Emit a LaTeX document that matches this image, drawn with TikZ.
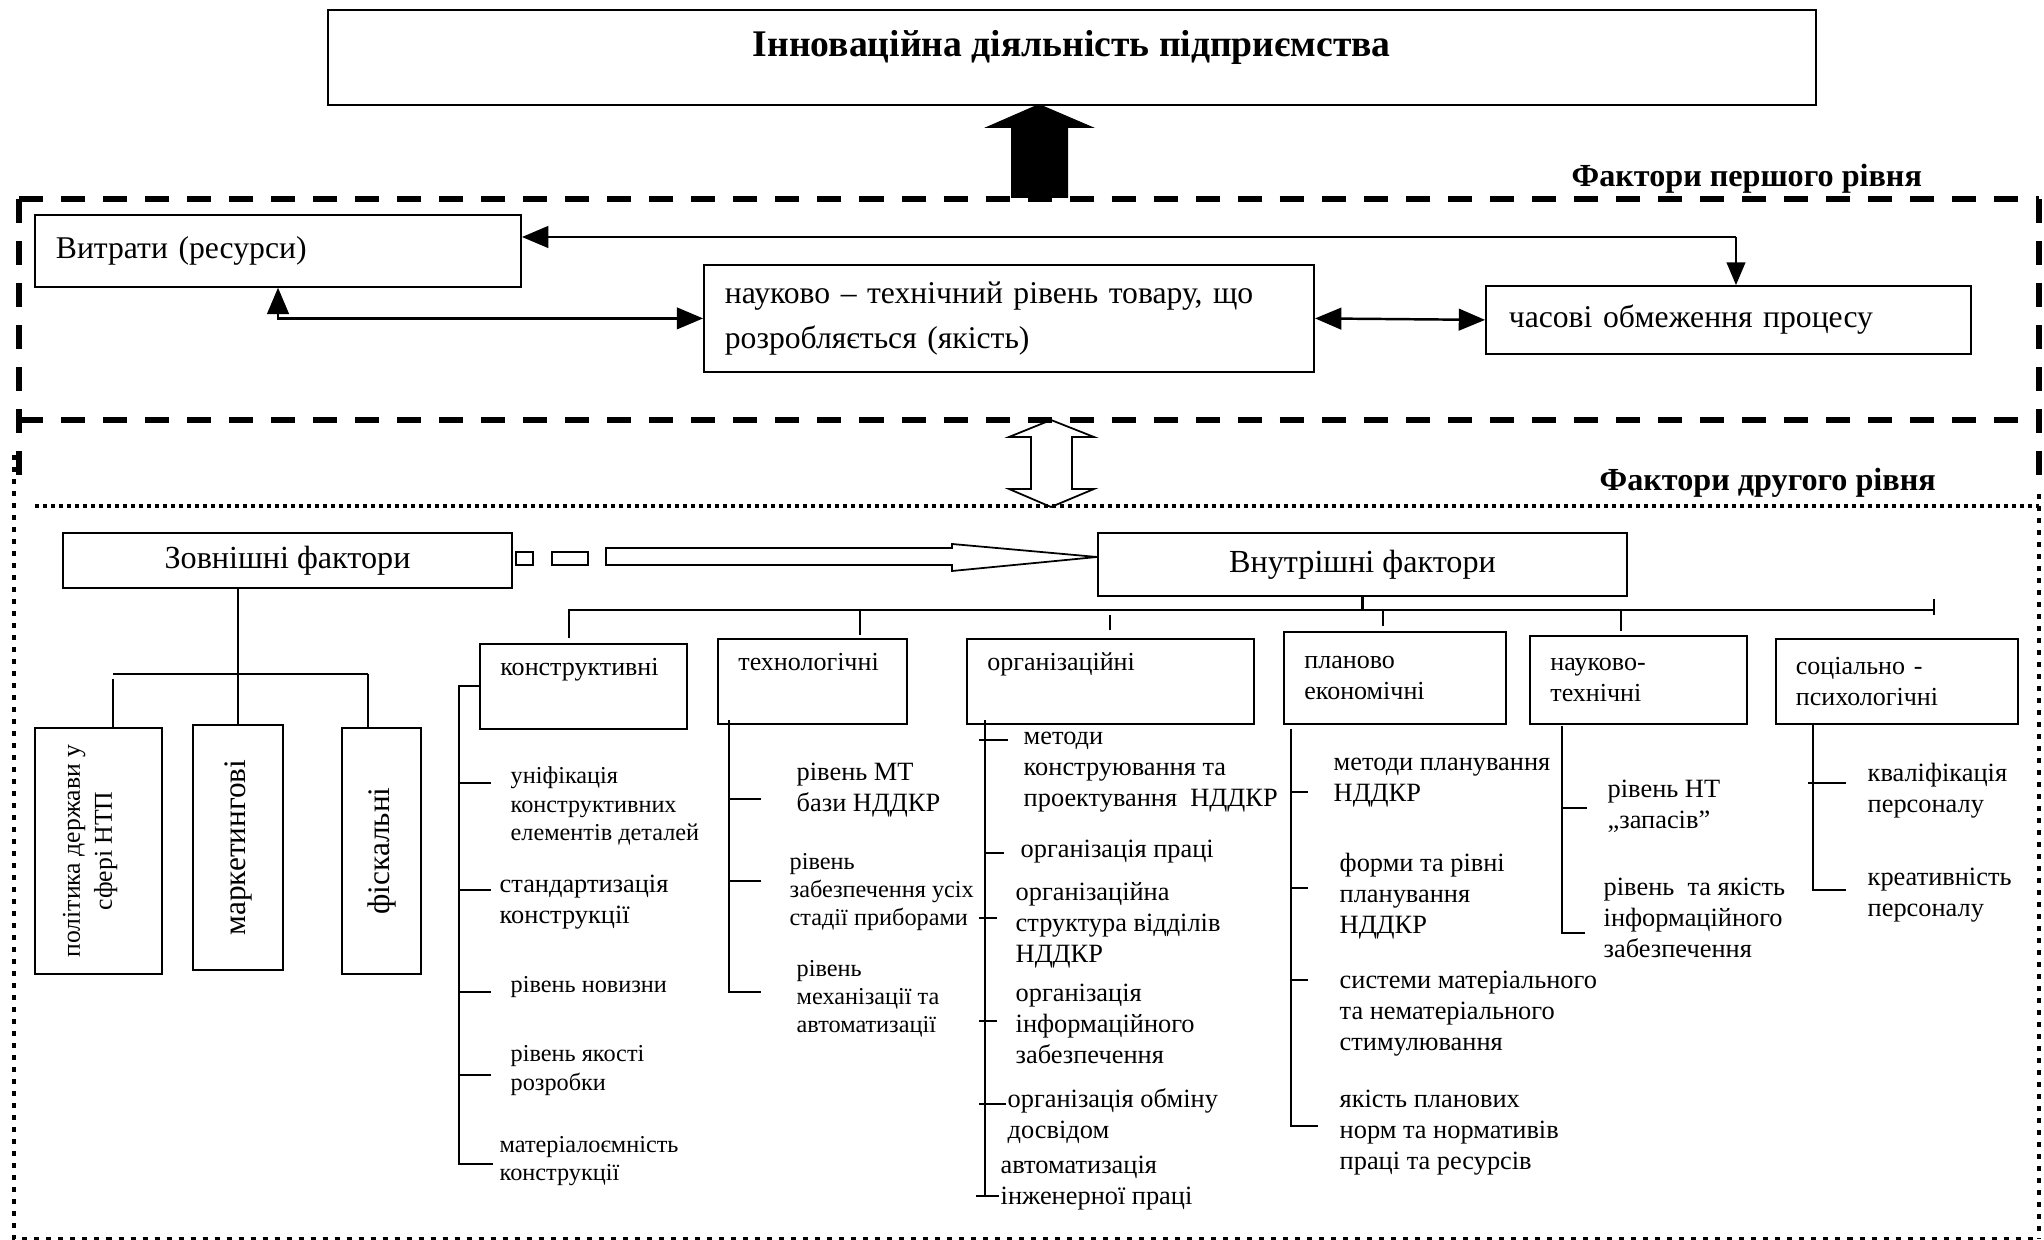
\documentclass[tikz,border=0pt]{standalone}
\usepackage{fontspec}
\setmainfont{Liberation Serif}
\usetikzlibrary{shapes,arrows,positioning}

\tikzset{
	bx/.style={draw,line width=0.5pt,anchor=north west,inner ysep=0pt},
	topbx/.style={bx,align=left,inner xsep=2.1mm,font=\fontsize{9}{12.8}\selectfont},
	catbx/.style={bx,align=left,inner xsep=2.05mm,minimum height=8.5mm,font=\fontsize{7.4}{8.6}\selectfont},
	rotbx/.style={draw,line width=0.5pt,rotate=90,align=center,inner sep=0pt,font=\fontsize{8.9}{9.1}\selectfont},
	punkt/.style={anchor=west,align=left,inner sep=0pt,font=\fontsize{7.5}{8.8}\selectfont},
	punktS/.style={punkt,font=\fontsize{6.9}{8}\selectfont},
	zagol/.style={anchor=base west,inner sep=0pt,font=\fontsize{9.15}{11}\selectfont\bfseries},
	trln/.style={line width=0.6pt},
	thickdash/.style={line width=1.7pt,dash pattern=on 2.4mm off 1.8mm},
	dotline/.style={line width=1.4pt,dash pattern=on 0.5mm off 0.7mm},
}

\begin{document}
\begin{tikzpicture}[line join=miter,>=triangle 45,x=0.01cm,y=-0.01cm]
	\useasboundingbox (0,0) rectangle (2044,1240);
	% головний блок
	\node[bx,minimum width=148.7mm,minimum height=9.5mm,text height=2.6mm,text depth=2.8mm,
		font=\fontsize{10.7}{12}\selectfont\bfseries] (innov) at (327,9) {Інноваційна діяльність підприємства};
	\fill (1039,104) -- (1095,128) -- (1068,128) -- (1068,198) -- (1011,198) -- (1011,128) -- (984,128) -- cycle;%чорна стрілка

	% фактори першого рівня
	\node[zagol] (pershyi) at (1571,186.5) {Фактори першого рівня};
	\draw[thickdash] (19,199) -- (2039,199);
	\draw[thickdash] (19,420) -- (2039,420);
	\draw[thickdash] (19,199) -- (19,493);
	\draw[thickdash] (2039,199) -- (2039,476);

	\node[topbx,text width=44.4mm,minimum height=7.2mm] (vytr) at (34,214) {Витрати (ресурси)};
	\node[topbx,text width=56.8mm,minimum height=10.7mm] (rivn) at (703,264) {науково – технічний рівень товару, що\\розробляється (якість)};
	\node[topbx,inner xsep=2.3mm,text width=43.9mm,minimum height=6.8mm] (chas) at (1485,285) {часові обмеження процесу};

	\draw[<->,line width=0.7pt] (vytr.south) |- (rivn.west);
	\draw[<->,line width=0.7pt] (rivn.east) -- (chas.west);
	\coordinate (kut) at (1736,237);
	\draw[->,line width=0.7pt] (kut) -- (kut -| vytr.east);
	\draw[->,line width=0.45pt] (kut) -- (kut |- chas.north);

	\draw[line width=0.5pt] (1051,420) -- (1094,437) -- (1072,437) -- (1072,489) -- (1094,489) -- (1051,507)
		-- (1009,489) -- (1031,489) -- (1031,437) -- (1009,437) -- cycle;%подвійна стрілка

	% фактори другого рівня
	\node[zagol] (druhyi) at (1599,491) {Фактори другого рівня};
	\draw[dotline,line width=1.1pt,dash pattern=on 0.4mm off 0.4mm] (35,506) -- (2039,506);
	\draw[dotline] (14,455) -- (14,1239) -- (2039,1239);
	\draw[dotline] (2039,494) -- (2039,1239);

	\node[bx,minimum width=44.9mm,minimum height=5.5mm,font=\fontsize{9.15}{11}\selectfont] (zovn) at (62,532) {Зовнішні фактори};
	\node[bx,minimum width=52.9mm,minimum height=6.3mm,font=\fontsize{9.15}{11}\selectfont] (vnut) at (1097,532) {Внутрішні фактори};

	\draw[line width=0.5pt] (516,552) rectangle (533,565);
	\draw[line width=0.5pt] (552,552) rectangle (588,565);
	\draw[line width=0.5pt] (606,548) -- (952,548) -- (952,544) -- (1097,557) -- (952,571) -- (952,565) -- (606,565) -- cycle;

	% зовнішні
	\node[rotbx,minimum width=24.6mm,minimum height=12.7mm,text depth=2.2mm,font=\fontsize{7.3}{9.1}\selectfont] (polit) at (98.5,851) {політика держави у\\сфері НТП};
	\node[rotbx,minimum width=24.5mm,minimum height=9mm] (market) at (238,847.5) {маркетингові};
	\node[rotbx,minimum width=24.6mm,minimum height=7.9mm] (fisk) at (381.5,851) {фіскальні};
	\draw[trln] (zovn.south -| market.east) -- (market.east);
	\draw[trln] (113,674) -- (368,674);
	\draw[trln] (113,679) -- (113,728);
	\draw[trln] (368,674) -- (368,728);

	% внутрішні - шина
	\coordinate (shyna) at (1934,610);
	\draw[trln] (vnut.south) -- (vnut.south |- shyna);
	\draw[trln] (569,638) -- (569,610) -- (shyna);
	\draw[trln] (1934,599) -- (1934,615);
	\draw[trln] (860,610) -- (860,635);
	\draw[trln] (1110,615) -- (1110,630);
	\draw[trln] (1383,610) -- (1383,626);
	\draw[trln] (1621,610) -- (1621,631);

	\node[catbx,text width=16.6mm] (konstr) at (479,643) {конструктивні\\\strut};
	\node[catbx,text width=14.8mm] (tekhn) at (717,638) {технологічні\\\strut};
	\node[catbx,text width=24.6mm] (orhan) at (966,638) {організаційні\\\strut};
	\node[catbx,text width=18.1mm,minimum height=9.2mm] (planov) at (1283,631) {планово\\економічні};
	\node[catbx,text width=17.6mm,minimum height=8.8mm] (naukov) at (1529,635) {науково-\\технічні};
	\node[catbx,inner xsep=2mm,text width=20.2mm] (sotsial) at (1775,638) {соціально -\\психологічні};

	% конструктивні
	\draw[trln] (konstr.west) -| (459,1164) -- (493,1164);
	\draw[trln] (459,783) -- (491,783);
	\draw[trln] (459,890) -- (491,890);
	\draw[trln] (459,992) -- (491,992);
	\draw[trln] (459,1075) -- (491,1075);
	\node[punktS] (k1) at (510,806) {уніфікація\\конструктивних\\елементів деталей};
	\node[punkt] (k2) at (499,902.5) {стандартизація\\конструкції};
	\node[punktS] (k3) at (510,987) {рівень новизни};
	\node[punktS] (k4) at (510,1070.5) {рівень якості\\розробки};
	\node[punktS] (k5) at (499,1161.5) {матеріалоємність\\конструкції};

	% технологічні
	\draw[trln] (729,720) -- (729,992) -- (761,992);
	\draw[trln] (729,799) -- (761,799);
	\draw[trln] (729,881) -- (761,881);
	\node[punkt] (t1) at (796,790) {рівень МТ\\бази НДДКР};
	\node[punktS] (t2) at (789,892) {рівень\\забезпечення усіх\\стадії приборами};
	\node[punktS] (t3) at (796,998.5) {рівень\\механізації та\\автоматизації};

	% організаційні
	\draw[trln] (985,720) -- (985,1196);
	\draw[trln] (979,740) -- (1008,740);
	\draw[trln] (986,853) -- (1004,853);
	\draw[trln] (979,918) -- (997,918);
	\draw[trln] (979,1021) -- (997,1021);
	\draw[trln] (979,1104) -- (1006,1104);
	\draw[trln] (976,1196) -- (999,1196);
	\node[punkt] (o1) at (1023,772) {методи\\конструювання та\\проектування~ НДДКР};
	\node[punkt] (o2) at (1020,852) {організація праці};
	\node[punkt] (o3) at (1015,925) {організаційна\\структура відділів\\НДДКР};
	\node[punkt] (o4) at (1015,1024) {організація\\інформаційного\\забезпечення};
	\node[punkt] (o5) at (1007,1116) {організація обміну\\досвідом};
	\node[punkt] (o6) at (1000,1183) {автоматизація\\інженерної праці};

	% планово економічні
	\draw[trln] (1291,729) -- (1291,1126) -- (1318,1126);
	\draw[trln] (1291,792) -- (1308,792);
	\draw[trln] (1291,888) -- (1308,888);
	\draw[trln] (1291,980) -- (1308,980);
	\node[punkt] (p1) at (1333,782.5) {методи планування\\НДДКР};
	\node[punkt] (p2) at (1339,896) {форми та рівні\\планування\\НДДКР};
	\node[punkt] (p3) at (1339,1013.5) {системи матеріального\\та нематеріального\\стимулювання};
	\node[punkt] (p4) at (1339,1132.5) {якість планових\\норм та нормативів\\праці та ресурсів};

	% науково-технічні
	\draw[trln] (1562,726) -- (1562,933) -- (1585,933);
	\draw[trln] (1562,808) -- (1587,808);
	\node[punkt] (n1) at (1607,806.5) {рівень НТ\\„запасів”};
	\node[punkt] (n2) at (1603,918) {рівень~ та якість\\інформаційного\\забезпечення};

	% соціально-психологічні
	\draw[trln] (1813,723) -- (1813,890) -- (1846,890);
	\draw[trln] (1808,783) -- (1846,783);
	\node[punkt] (s1) at (1867,790.5) {кваліфікація\\персоналу};
	\node[punkt] (s2) at (1867,895.5) {креативність\\персоналу};
\end{tikzpicture}
\end{document}
